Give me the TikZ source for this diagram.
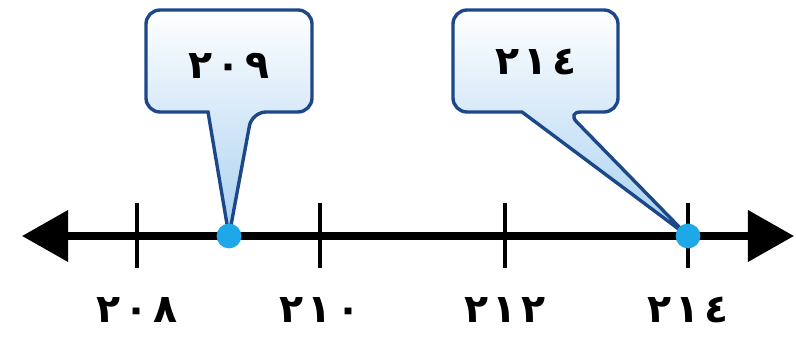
\documentclass[tikz,border=0pt]{standalone}
\usepackage{fontspec}
\newfontfamily\arabicfont[Script=Arabic, LetterSpace=12]{DejaVu Sans}
\usetikzlibrary{arrows.meta, positioning}

\definecolor{calloutblue}{RGB}{28,72,138}
\definecolor{calloutfill}{RGB}{168,208,240}
\definecolor{dotcyan}{RGB}{30,168,232}

\begin{document}
\begin{tikzpicture}[x=0.025cm, y=0.025cm,
                numline/.style={line width=5pt, {Triangle[length=1.15cm, width=1.25cm]}-{Triangle[length=1.15cm, width=1.25cm]}},
                tickmark/.style={line width=2.4pt},
                num/.style={font=\arabicfont\bfseries\fontsize{28}{30}\selectfont, inner sep=0pt},
                callout/.style={draw=calloutblue, line width=2.4pt, top color=white, bottom color=calloutfill},
                dot/.style={circle, fill=dotcyan, minimum size=0.62cm, inner sep=0pt}]
                \useasboundingbox (0,0) rectangle (796,342);

                % number line
                \coordinate (west) at (22,106);
                \coordinate (east) at (794,106);
                \draw[numline] (west) -- (east);

                % ticks and labels
                \foreach \x/\lab/\name in {137/٢٠٨/208, 320/٢١٠/210, 505/٢١٢/212, 688/٢١٤/214} {
                    \draw[tickmark] (\x,139) -- (\x,74);
                    \node[num] (l\name) at (\x,32) {\lab};
                }

                % points
                \coordinate (p209) at (229,106);
                \coordinate (p214) at (688,106);

                % callouts
                \path[callout] (208,230) [rounded corners=10pt] -- (146,230) -- (146,332) -- (312,332) -- (312,230) -- (252,230) [sharp corners] -- (p209) -- cycle;
                \path[callout] (522,230) [rounded corners=10pt] -- (453,230) -- (453,332) -- (618,332) -- (618,230) -- (567,230) [sharp corners] -- (p214) -- cycle;
                \node[num] (c209) at (229,276) {٢٠٩};
                \node[num] (c214) at (536,280) {٢١٤};

                \node[dot] (d209) at (p209) {};
                \node[dot] (d214) at (p214) {};
            \end{tikzpicture}
\end{document}
